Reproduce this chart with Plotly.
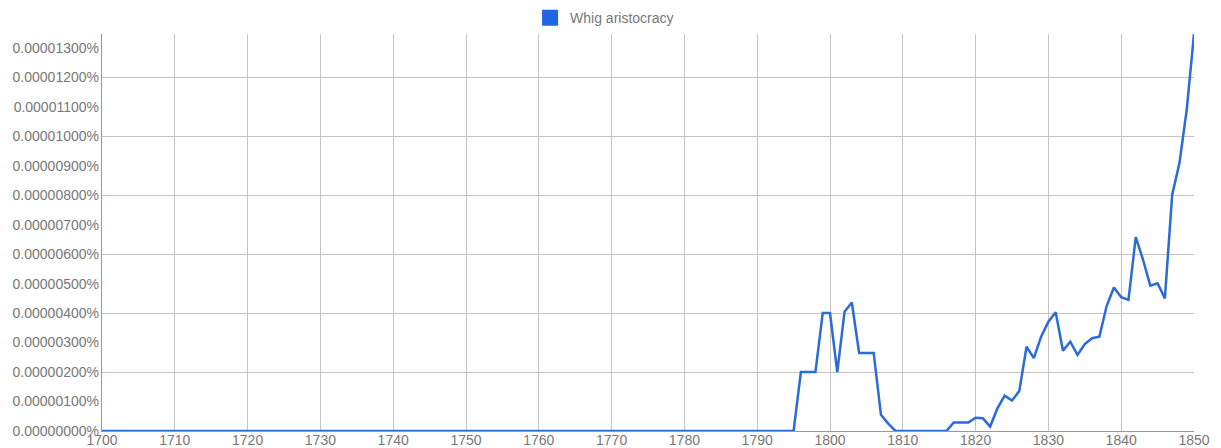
import plotly.graph_objects as go

years = list(range(1700, 1851))
# frequency in units of 0.000001 %
values = [
    0, 0, 0, 0, 0, 0, 0, 0, 0, 0,   # 1700-1709
    0, 0, 0, 0, 0, 0, 0, 0, 0, 0,   # 1710-1719
    0, 0, 0, 0, 0, 0, 0, 0, 0, 0,   # 1720-1729
    0, 0, 0, 0, 0, 0, 0, 0, 0, 0,   # 1730-1739
    0, 0, 0, 0, 0, 0, 0, 0, 0, 0,   # 1740-1749
    0, 0, 0, 0, 0, 0, 0, 0, 0, 0,   # 1750-1759
    0, 0, 0, 0, 0, 0, 0, 0, 0, 0,   # 1760-1769
    0, 0, 0, 0, 0, 0, 0, 0, 0, 0,   # 1770-1779
    0, 0, 0, 0, 0, 0, 0, 0, 0, 0,   # 1780-1789
    0, 0, 0, 0, 0, 0, 2.0, 2.0, 2.0, 4.0,   # 1790-1799
    4.0, 2.0, 4.05, 4.36, 2.65, 2.65, 2.65, 0.55, 0.25, 0,   # 1800-1809
    0, 0, 0, 0, 0, 0, 0, 0.29, 0.29, 0.29,   # 1810-1819
    0.45, 0.43, 0.15, 0.77, 1.2, 1.03, 1.36, 2.86, 2.47, 3.2,   # 1820-1829
    3.71, 4.03, 2.72, 3.03, 2.58, 2.95, 3.15, 3.2, 4.24, 4.87,   # 1830-1839
    4.54, 4.45, 6.58, 5.81, 4.93, 5.01, 4.5, 8.01, 9.09, 10.9,   # 1840-1849
    13.47,   # 1850
]

series_name = "Whig aristocracy"
y_tickvals = list(range(0, 14))
y_ticktext = [
    "0.00000000%", "0.00000100%", "0.00000200%", "0.00000300%", "0.00000400%",
    "0.00000500%", "0.00000600%", "0.00000700%", "0.00000800%", "0.00000900%",
    "0.00001000%", "0.00001100%", "0.00001200%", "0.00001300%",
]
y_gridvals = [0, 2, 4, 6, 8, 10, 12]
x_tickvals = list(range(1700, 1851, 10))
x_ticktext = [str(v) for v in x_tickvals]

line_color = "#2a6bd6"
font_color = "#777777"
grid_color = "#c4c4c4"
y_max = 13.47

fig = go.Figure()
fig.add_trace(go.Scatter(
    x=years, y=values, mode="lines", showlegend=False, yaxis="y2",
    line=dict(color=line_color, width=2.5), hoverinfo="x+y",
))
fig.add_trace(go.Scatter(
    x=[None], y=[None], mode="markers", name=series_name, yaxis="y2",
    marker=dict(symbol="square", size=16, color="#1f66e5"),
))
fig.add_trace(go.Scatter(
    x=[None], y=[None], showlegend=False, hoverinfo="skip",
))

fig.update_layout(
    width=1221, height=448,
    margin=dict(l=94, r=35, t=26, b=25, autoexpand=False),
    paper_bgcolor="white", plot_bgcolor="white",
    font=dict(family="Liberation Sans, Arial, sans-serif", size=14, color=font_color),
    legend=dict(orientation="h", xref="paper", yref="paper",
                x=0.392, xanchor="left", y=1.08, yanchor="top",
                font=dict(size=14, color=font_color), bgcolor="rgba(0,0,0,0)"),
    xaxis=dict(
        range=[1700, 1850], tickvals=x_tickvals, ticktext=x_ticktext,
        showgrid=True, gridcolor=grid_color, gridwidth=1,
        showline=True, linecolor="#999999", linewidth=1,
        ticks="", ticklabelstandoff=-4, zeroline=False, automargin=False,
        tickfont=dict(size=14, color=font_color),
    ),
    # grid-only axis
    yaxis=dict(
        range=[0, y_max], tickmode="array", tickvals=y_gridvals,
        showgrid=True, gridcolor=grid_color, gridwidth=1,
        showticklabels=False, zeroline=False, automargin=False,
        showline=True, linecolor="#999999", linewidth=1, ticks="",
    ),
    # label axis
    yaxis2=dict(
        range=[0, y_max], overlaying="y", side="left",
        tickmode="array", tickvals=y_tickvals, ticktext=y_ticktext,
        showgrid=False, zeroline=False, showline=False, automargin=False,
        ticks="", ticklabelstandoff=2,
        tickfont=dict(size=14, color=font_color),
    ),
)

fig.write_html("out.html")
